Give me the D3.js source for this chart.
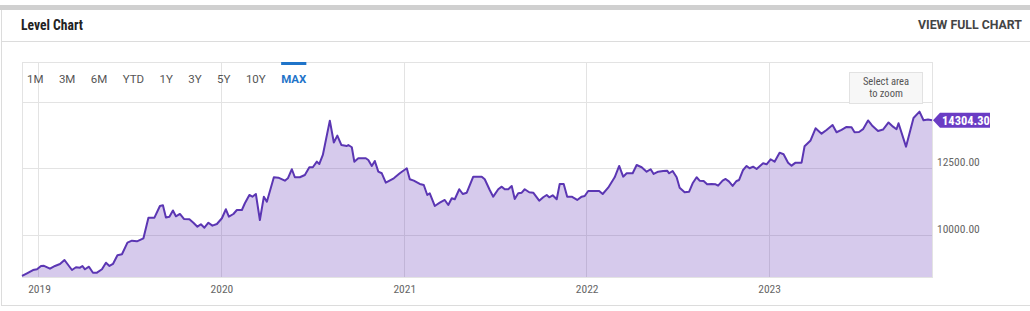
<!DOCTYPE html>
<html>
<head>
<meta charset="utf-8">
<script src="https://cdn.jsdelivr.net/npm/d3@7"></script>
<style>
  body { margin: 0; background: #fff; }
  svg text { font-family: "Roboto Condensed", "Liberation Sans Narrow", Roboto, sans-serif; }
  svg text.wide { font-family: Roboto, sans-serif; }
</style>
</head>
<body>
<div id="chart"></div>
<script>
// index level
var dates = [
  "2018-11-29","2018-12-09","2018-12-21","2018-12-29","2019-01-06","2019-01-12","2019-01-24","2019-02-03",
  "2019-02-13","2019-02-22","2019-03-09","2019-03-17","2019-03-25","2019-03-30","2019-04-04","2019-04-12",
  "2019-04-20","2019-04-28","2019-05-08","2019-05-16","2019-05-23","2019-05-30","2019-06-08","2019-06-17",
  "2019-06-28","2019-07-07","2019-07-17","2019-07-30","2019-08-09","2019-08-21","2019-09-01","2019-09-07",
  "2019-09-13","2019-09-20","2019-09-27","2019-10-03","2019-10-11","2019-10-19","2019-10-30","2019-11-07",
  "2019-11-15","2019-11-22","2019-11-29","2019-12-07","2019-12-15","2019-12-24","2020-01-03","2020-01-11",
  "2020-01-17","2020-01-26","2020-02-02","2020-02-12","2020-02-18","2020-02-27","2020-03-04","2020-03-11",
  "2020-03-19","2020-03-27","2020-04-02","2020-04-16","2020-04-25","2020-05-08","2020-05-14","2020-05-22",
  "2020-05-28","2020-06-07","2020-06-17","2020-06-26","2020-07-03","2020-07-11","2020-07-16","2020-07-23",
  "2020-08-06","2020-08-14","2020-08-21","2020-08-29","2020-09-09","2020-09-12","2020-09-19","2020-09-24",
  "2020-10-02","2020-10-17","2020-10-22","2020-10-29","2020-11-04","2020-11-11","2020-11-18","2020-11-26",
  "2020-12-12","2020-12-24","2021-01-07","2021-01-13","2021-01-21","2021-02-02","2021-02-10","2021-02-17",
  "2021-02-22","2021-03-04","2021-03-14","2021-03-24","2021-03-31","2021-04-07","2021-04-13","2021-04-22",
  "2021-04-29","2021-05-07","2021-05-20","2021-06-06","2021-06-12","2021-06-22","2021-06-29","2021-07-09",
  "2021-07-16","2021-07-22","2021-07-29","2021-08-05","2021-08-11","2021-08-18","2021-08-25","2021-08-31",
  "2021-09-09","2021-09-17","2021-09-29","2021-10-07","2021-10-14","2021-10-19","2021-10-26","2021-11-03",
  "2021-11-09","2021-11-17","2021-11-24","2021-12-03","2021-12-14","2021-12-23","2021-12-29","2022-01-05",
  "2022-01-22","2022-01-27","2022-02-03","2022-02-14","2022-02-27","2022-03-08","2022-03-16","2022-03-23",
  "2022-04-04","2022-04-12","2022-04-22","2022-05-02","2022-05-10","2022-05-16","2022-05-25","2022-06-04",
  "2022-06-12","2022-06-16","2022-06-23","2022-07-01","2022-07-07","2022-07-17","2022-07-26","2022-08-02",
  "2022-08-10","2022-08-16","2022-08-24","2022-08-31","2022-09-09","2022-09-17","2022-09-22","2022-10-01",
  "2022-10-07","2022-10-14","2022-10-21","2022-10-29","2022-11-03","2022-11-11","2022-11-18","2022-11-24",
  "2022-12-01","2022-12-08","2022-12-21","2022-12-28","2023-01-05","2023-01-13","2023-01-23","2023-01-31",
  "2023-02-09","2023-02-16","2023-02-24","2023-03-08","2023-03-14","2023-03-26","2023-04-05","2023-04-17",
  "2023-04-27","2023-05-09","2023-05-17","2023-05-27","2023-06-06","2023-06-16","2023-06-22","2023-07-01",
  "2023-07-09","2023-07-19","2023-07-27","2023-08-08","2023-08-18","2023-08-29","2023-09-07","2023-09-14",
  "2023-09-18","2023-10-03","2023-10-18","2023-10-30","2023-11-07","2023-11-16","2023-11-24"
];
var values = [
  8448, 8549, 8673, 8700, 8824, 8830, 8722, 8824,
  8899, 9049, 8673, 8775, 8760, 8824, 8700, 8797,
  8572, 8572, 8700, 8948, 8824, 8899, 9226, 9264,
  9700, 9775, 9752, 9865, 10639, 10639, 11079, 11105,
  10647, 10677, 10910, 10692, 10778, 10590, 10580, 10451,
  10301, 10391, 10263, 10451, 10339, 10402, 10617, 10955,
  10677, 10778, 10929, 10929, 11181, 11493, 11429, 11530,
  10553, 11429, 11241, 12158, 12143, 12030, 12120, 12459,
  12158, 12158, 12244, 12534, 12534, 12744, 12658, 12996,
  14286, 13466, 13722, 13372, 13334, 13372, 13286, 12744,
  12872, 12872, 12808, 12583, 12771, 12368, 12308, 11955,
  12120, 12308, 12496, 12083, 12030, 11906, 11869, 11493,
  11556, 11079, 11203, 11305, 11117, 11369, 11331, 11707,
  11530, 11579, 12180, 12180, 12083, 11681, 11429, 11707,
  11805, 11707, 11707, 11831, 11342, 11556, 11579, 11707,
  11594, 11579, 11278, 11406, 11493, 11406, 11481, 11331,
  11906, 11906, 11429, 11429, 11305, 11429, 11455, 11643,
  11643, 11643, 11530, 11767, 12158, 12583, 12180, 12308,
  12308, 12620, 12534, 12368, 12459, 12282, 12368, 12395,
  12406, 12308, 12395, 12158, 11767, 11594, 11617, 11932,
  12158, 12030, 12019, 11895, 11906, 11895, 11842, 12030,
  12094, 11993, 11831, 12019, 12056, 12432, 12583, 12496,
  12556, 12470, 12684, 12647, 12835, 12744, 13083, 13023,
  12707, 12594, 12707, 12707, 13323, 13541, 14000, 13797,
  13936, 14124, 13849, 13936, 14049, 14037, 13849, 13861,
  13966, 14293, 14105, 13898, 13951, 14218, 14060, 13962,
  14188, 13308, 14387, 14624, 14300, 14330, 14304.30
];
var yearTicks = ["2019-01-01", "2020-01-01", "2021-01-01", "2022-01-01", "2023-01-01"];
var valueTicks = [10000, 12500, 15000];
var rangeButtons = ["1M", "3M", "6M", "YTD", "1Y", "3Y", "5Y", "10Y", "MAX"];
var selectedButton = "MAX";

var W = 1030, H = 311;
var plot = {left: 22, right: 932, top: 62, bottom: 277};
var parse = d3.timeParse("%Y-%m-%d");
var points = dates.map((d, i) => ({date: parse(d), value: values[i]}));

var x = d3.scaleTime()
  .domain(d3.extent(points, d => d.date))
  .range([plot.left, plot.right]);
var y = d3.scaleLinear()
  .domain([8410, 16490])
  .range([plot.bottom, plot.top]);

var svg = d3.select("#chart").append("svg")
  .attr("width", W)
  .attr("height", H);

// page chrome
svg.append("rect").attr("x", 0).attr("y", 5).attr("width", W).attr("height", 5).attr("fill", "#d0d0d0");
svg.append("line").attr("x1", 1.5).attr("x2", 1.5).attr("y1", 10).attr("y2", 305.5).attr("stroke", "#dcdcdc");
svg.append("line").attr("x1", 1).attr("x2", W).attr("y1", 41.5).attr("y2", 41.5).attr("stroke", "#dcdcdc");
svg.append("line").attr("x1", 1).attr("x2", W).attr("y1", 305.5).attr("y2", 305.5).attr("stroke", "#dcdcdc");

svg.append("text")
  .attr("x", 21).attr("y", 30)
  .attr("font-size", 14.5).attr("font-weight", "bold").attr("fill", "#222")
  .attr("textLength", 62).attr("lengthAdjust", "spacingAndGlyphs")
  .text("Level Chart");

svg.append("text")
  .attr("class", "wide")
  .attr("x", 1022).attr("y", 29)
  .attr("text-anchor", "end")
  .attr("font-size", 12).attr("font-weight", "bold").attr("fill", "#444")
  .attr("textLength", 104).attr("lengthAdjust", "spacingAndGlyphs")
  .text("VIEW FULL CHART");

// grid
var grid = svg.append("g");
grid.selectAll(".hgrid")
  .data(valueTicks)
  .enter().append("line")
  .attr("x1", plot.left).attr("x2", plot.right)
  .attr("y1", d => Math.round(y(d)) + 0.5).attr("y2", d => Math.round(y(d)) + 0.5)
  .attr("stroke", "#e3e3e3");
grid.selectAll(".vgrid")
  .data(yearTicks.map(parse))
  .enter().append("line")
  .attr("x1", d => Math.round(x(d)) + 0.5).attr("x2", d => Math.round(x(d)) + 0.5)
  .attr("y1", plot.top).attr("y2", plot.bottom)
  .attr("stroke", "#e3e3e3");
grid.append("rect")
  .attr("x", plot.left + 0.5).attr("y", plot.top + 0.5)
  .attr("width", plot.right - plot.left).attr("height", plot.bottom - plot.top)
  .attr("fill", "none").attr("stroke", "#e3e3e3");

// series
svg.append("path")
  .datum(points)
  .attr("d", d3.area().x(d => x(d.date)).y0(plot.bottom).y1(d => y(d.value)))
  .attr("fill", "rgba(103,58,183,0.27)");
svg.append("path")
  .datum(points)
  .attr("d", d3.line().x(d => x(d.date)).y(d => y(d.value)))
  .attr("fill", "none")
  .attr("stroke", "#5b36b3")
  .attr("stroke-width", 2)
  .attr("stroke-linejoin", "round");

// axes labels
svg.append("g").selectAll("text")
  .data(yearTicks.map(parse))
  .enter().append("text")
  .attr("x", d => x(d) + 1)
  .attr("y", 293)
  .attr("text-anchor", "middle")
  .attr("font-size", 11.5).attr("fill", "#666")
  .text(d3.timeFormat("%Y"));

var last = points[points.length - 1];
var yLast = y(last.value);

svg.append("g").selectAll("text")
  .data(valueTicks.filter(v => Math.abs(y(v) - yLast) > 20))
  .enter().append("text")
  .attr("x", 937)
  .attr("y", d => y(d) - 2)
  .attr("font-size", 11.5).attr("fill", "#666")
  .text(d => d3.format(".2f")(d));

// last value flag
svg.append("path")
  .attr("d", "M" + (plot.right + 1) + "," + yLast + " L940," + (yLast - 7.5) + " L990," + (yLast - 7.5) +
    " L990," + (yLast + 7.5) + " L940," + (yLast + 7.5) + " Z")
  .attr("fill", "#6a3cc4");
svg.append("text")
  .attr("x", 942).attr("y", yLast + 4.5)
  .attr("font-size", 12.5).attr("font-weight", "bold").attr("fill", "#fff")
  .text(d3.format(".2f")(last.value));

// range selector
var bx = 27;
var buttons = svg.append("g");
rangeButtons.forEach(b => {
  var t = buttons.append("text")
    .attr("class", "wide")
    .attr("x", bx).attr("y", 82.5)
    .attr("font-size", 11.5)
    .attr("fill", b === selectedButton ? "#1f74c9" : "#555")
    .attr("font-weight", b === selectedButton ? "bold" : "normal")
    .text(b);
  var w = t.node().getComputedTextLength();
  if (b === selectedButton) {
    buttons.append("rect")
      .attr("x", bx).attr("y", plot.top)
      .attr("width", w).attr("height", 3)
      .attr("fill", "#1f74c9");
  }
  bx += w + 15.4;
});

// zoom hint
var hint = svg.append("g").attr("transform", "translate(849,72)");
hint.append("rect")
  .attr("x", 0.5).attr("y", 0.5).attr("width", 73).attr("height", 31)
  .attr("fill", "#f7f7f7").attr("stroke", "#e2e2e2");
hint.selectAll("text")
  .data(["Select area", "to zoom"])
  .enter().append("text")
  .attr("x", 37).attr("y", (d, i) => 13 + i * 12)
  .attr("text-anchor", "middle")
  .attr("font-size", 10.5).attr("fill", "#555")
  .text(d => d);
</script>
</body>
</html>
